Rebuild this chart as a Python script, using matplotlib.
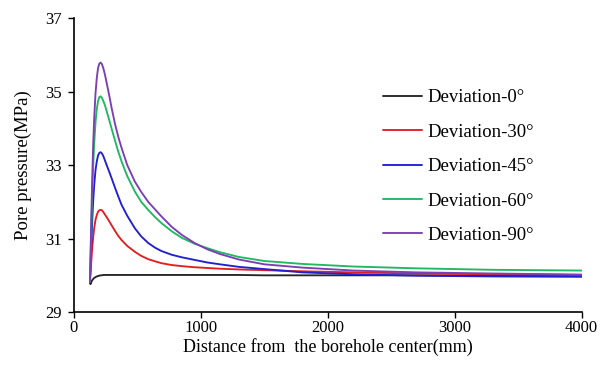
import matplotlib
matplotlib.use("Agg")
import matplotlib.pyplot as plt

plt.rcParams['font.family'] = ['Liberation Serif', 'DejaVu Serif']

# Distance from the borehole center (mm)
distance = [126, 130, 135, 140, 145, 152, 160, 170, 180, 190, 200,
            210, 220, 232, 245, 260, 280, 297, 325, 350, 375,
            420, 480, 530, 585, 640, 690, 770, 850, 950, 1050,
            1150, 1300, 1500, 1800, 2200, 2700, 3300, 4000]

# Pore pressure (MPa) for each well deviation
dev_0 = [29.82, 29.76, 29.80, 29.84, 29.87, 29.90, 29.93, 29.95, 29.97, 29.98, 29.99,
         30.00, 30.00, 30.01, 30.01, 30.01, 30.01, 30.01, 30.01, 30.01, 30.01,
         30.01, 30.01, 30.01, 30.01, 30.01, 30.01, 30.01, 30.01, 30.01, 30.01,
         30.01, 30.01, 30.00, 30.00, 30.00, 30.00, 29.99, 29.99]
dev_30 = [29.82, 30.02, 30.29, 30.55, 30.78, 31.05, 31.29, 31.51, 31.64, 31.73, 31.77,
          31.78, 31.77, 31.72, 31.65, 31.57, 31.46, 31.36, 31.20, 31.07, 30.96,
          30.80, 30.64, 30.53, 30.44, 30.38, 30.33, 30.28, 30.25, 30.22, 30.20,
          30.18, 30.16, 30.14, 30.11, 30.08, 30.05, 30.03, 30.01]
dev_45 = [29.82, 30.17, 30.67, 31.13, 31.55, 32.04, 32.47, 32.86, 33.10, 33.26, 33.33,
          33.35, 33.32, 33.24, 33.12, 32.98, 32.80, 32.64, 32.37, 32.14, 31.92,
          31.62, 31.28, 31.06, 30.88, 30.75, 30.66, 30.56, 30.49, 30.42, 30.35,
          30.30, 30.23, 30.17, 30.08, 30.03, 29.99, 29.97, 29.96]
dev_60 = [29.82, 30.33, 31.03, 31.69, 32.29, 33.00, 33.61, 34.16, 34.52, 34.74, 34.85,
          34.87, 34.83, 34.74, 34.62, 34.44, 34.20, 33.99, 33.65, 33.36, 33.10,
          32.70, 32.28, 32.00, 31.78, 31.58, 31.42, 31.20, 31.02, 30.86, 30.74,
          30.63, 30.50, 30.39, 30.31, 30.24, 30.19, 30.15, 30.13]
dev_90 = [29.82, 30.42, 31.25, 32.03, 32.75, 33.58, 34.30, 34.95, 35.37, 35.64, 35.76,
          35.79, 35.75, 35.63, 35.45, 35.20, 34.86, 34.55, 34.10, 33.76, 33.47,
          33.00, 32.55, 32.27, 32.00, 31.79, 31.60, 31.32, 31.10, 30.88, 30.71,
          30.58, 30.43, 30.30, 30.21, 30.13, 30.08, 30.05, 30.02]

labels = ["Deviation-0°", "Deviation-30°", "Deviation-45°", "Deviation-60°", "Deviation-90°"]
series = [dev_0, dev_30, dev_45, dev_60, dev_90]
colors = ["#262626", "#e02020", "#2020d0", "#20b860", "#7a3fb5"]

x_ticks = [0, 1000, 2000, 3000, 4000]
y_ticks = [29, 31, 33, 35, 37]

fig = plt.figure(figsize=(6.11, 3.76), dpi=100)
ax = fig.add_axes([0.121, 0.170, 0.831, 0.782])

for vals, lab, col in zip(series, labels, colors):
    ax.plot(distance, vals, color=col, lw=1.35, label=lab,
            solid_joinstyle='round', solid_capstyle='round')

ax.set_xlim(0, 4000)
ax.set_ylim(29, 37)
ax.set_xticks(x_ticks)
ax.set_yticks(y_ticks)
ax.tick_params(direction='out', length=4, width=1, labelsize=12, colors='black')
ax.tick_params(axis='x', pad=2)
ax.tick_params(axis='y', pad=5)
for s in ['top', 'right']:
    ax.spines[s].set_visible(False)
for s in ['left', 'bottom']:
    ax.spines[s].set_linewidth(1.2)

ax.set_xlabel("Distance from  the borehole center(mm)", fontsize=13, labelpad=1)
ax.set_ylabel("Pore pressure(MPa)", fontsize=13.5, labelpad=9)

leg = ax.legend(loc='upper left', bbox_to_anchor=(0.593, 0.783), frameon=False,
                fontsize=13.5, handlelength=2.13, handletextpad=0.27, labelspacing=0.92,
                borderaxespad=0)

fig.savefig("out.png", dpi=100)
